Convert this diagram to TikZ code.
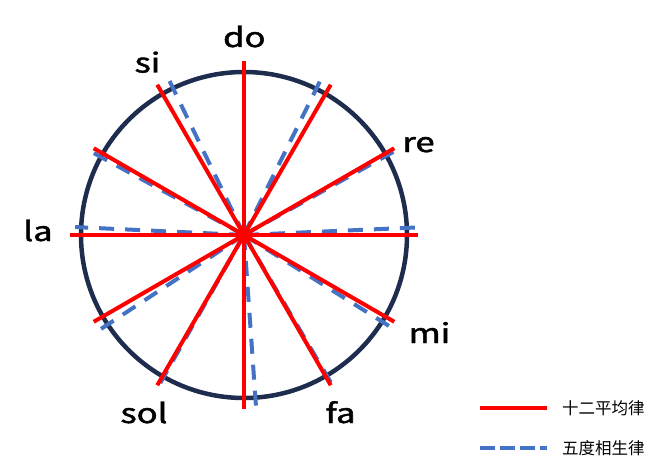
\documentclass[tikz,border=0pt]{standalone}
\usepackage{fontspec}
\setmainfont{Noto Sans CJK SC}
\newfontfamily\notefont[FakeBold=1.6]{Noto Sans CJK SC}
\usepackage{tikz}
\usetikzlibrary{positioning}
\definecolor{myred}{RGB}{255,0,0}
\definecolor{myblue}{RGB}{68,114,196}
\definecolor{mynavy}{RGB}{30,44,78}
\tikzstyle{equal}=[line width=4pt, myred]
\tikzstyle{fifths}=[line width=4pt, myblue, dash pattern=on 15pt off 11pt]
\tikzstyle{note}=[anchor=base, inner sep=0pt, font=\notefont\fontsize{27}{30}\selectfont]
\tikzstyle{legend}=[anchor=west, inner sep=0pt, font=\fontsize{16.5}{18}\selectfont]
\newcommand{\widetext}[1]{\scalebox{1.28}[1]{#1}}

\begin{document}
\begin{tikzpicture}[x=1pt, y=1pt]
\useasboundingbox (-244,-234) rectangle (412,235);

\coordinate (centre) at (0,0);
\node[circle, draw=mynavy, line width=4.5pt, minimum size=326pt, inner sep=0pt] (wheel) at (centre) {};

% pythagorean tuning, one radius per note
\foreach \ang/\len [count=\i] in {90/176,63.7/174,29.1/174,2.5/175,-32.1/176,-59.5/175,-86/175,240.5/170,213.3/172,177.3/169,151.4/174,115.8/173}{
    \coordinate (pyth\i) at (\ang:\len);
    \draw[fifths] (centre) -- (pyth\i);
}

% equal temperament
\foreach \ang [count=\i] in {0,30,...,330}{
    \coordinate (equal\i) at (\ang:173.5);
    \draw[equal] (centre) -- (equal\i);
}

\foreach \name/\pos in {do/{(0.3,188)}, si/{(-96.5,162.5)}, re/{(174.5,83)}, la/{(-206,-6)}, mi/{(185.5,-108)}, sol/{(-100,-188)}, fa/{(96.5,-188)}}{
    \node[note] (lbl\name) at \pos {\widetext{\name}};
}

% legend
\coordinate (legeqa) at (236,-173);
\coordinate (legeqb) at (303,-173);
\coordinate (legpya) at (236,-213);
\coordinate (legpyb) at (303,-213);
\draw[equal] (legeqa) -- (legeqb);
\draw[fifths, dash pattern=on 15pt off 5pt] (legpya) -- (legpyb);
\node[legend, right=15pt of legeqb] (legeq) {十二平均律};
\node[legend, right=15pt of legpyb] (legpy) {五度相生律};

\end{tikzpicture}
\end{document}
